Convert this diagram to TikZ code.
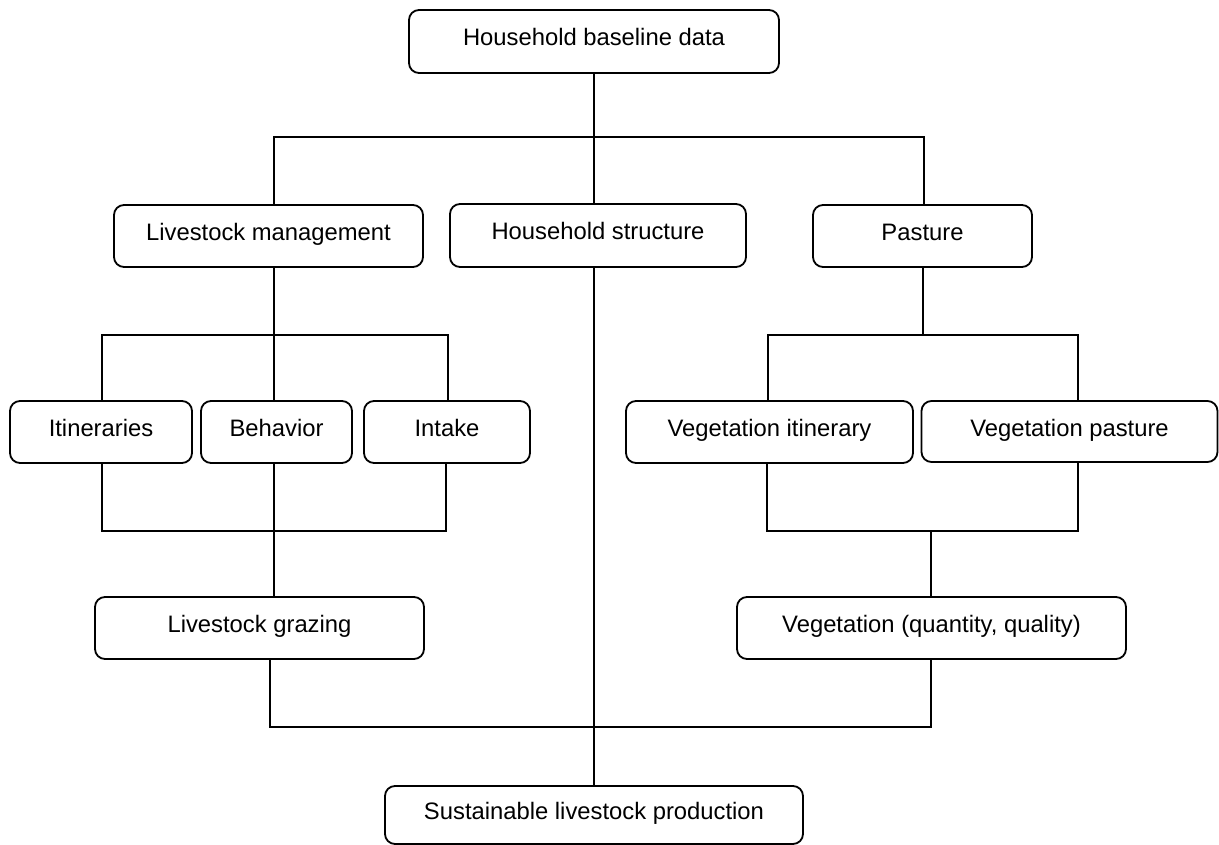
\documentclass[tikz,border=0pt]{standalone}
\usepackage{fontspec}
\setmainfont{Liberation Sans}
\begin{document}
\begin{tikzpicture}[x=1pt,y=-1pt,
  box/.style={draw=black, line width=1.8pt, rounded corners=10pt, fill=white,
    inner sep=0pt, text height=17pt, text depth=8pt, font=\fontsize{23.8}{28}\selectfont},
  conn/.style={draw=black, line width=1.8pt}]
\useasboundingbox (0,0) rectangle (1219,845);
% nodes
\node[box, minimum width=370pt, minimum height=63pt] (hbd) at (594,41.5) {Household baseline data};
\node[box, minimum width=309pt, minimum height=62pt] (lm) at (268.5,236) {Livestock management\hspace{15pt}};
\node[box, minimum width=296pt, minimum height=63pt] (hs) at (598,235.5) {Household structure};
\node[box, minimum width=219pt, minimum height=62pt] (pa) at (922.5,236) {Pasture};
\node[box, minimum width=182pt, minimum height=62pt] (it) at (101,432) {Itineraries};
\node[box, minimum width=151pt, minimum height=62pt] (be) at (276.5,432) {Behavior};
\node[box, minimum width=166pt, minimum height=62pt] (in) at (447,432) {Intake};
\node[box, minimum width=287pt, minimum height=62pt] (vi) at (769.5,432) {Vegetation itinerary};
\node[box, minimum width=296pt, minimum height=61pt] (vp) at (1069.5,431.5) {Vegetation pasture};
\node[box, minimum width=329pt, minimum height=62pt] (lg) at (259.5,628) {Livestock grazing};
\node[box, minimum width=389pt, minimum height=62pt] (vq) at (931.5,628) {Vegetation (quantity, quality)};
\node[box, minimum width=418pt, minimum height=58pt] (sl) at (594,815) {Sustainable livestock production\hspace{30pt}};
% junction coordinates
\coordinate (t1) at (274,137);
\coordinate (t2) at (924,137);
\coordinate (b1) at (274,335);
\coordinate (b1l) at (102,335);
\coordinate (b1r) at (448,335);
\coordinate (c1l) at (102,531);
\coordinate (c1m) at (274,531);
\coordinate (c1r) at (446,531);
\coordinate (p1) at (923,335);
\coordinate (p1l) at (768,335);
\coordinate (p1r) at (1078,335);
\coordinate (q1l) at (767,531);
\coordinate (q1m) at (931,531);
\coordinate (q1r) at (1078,531);
\coordinate (r1) at (270,727);
\coordinate (r2) at (931,727);
% connectors
\draw[conn] (hbd.south) -- (hs.north -| hbd.south);
\draw[conn] (t1 |- lm.north) -- (t1) -- (t2) -- (t2 |- pa.north);
\draw[conn] (hs.south -| hbd.south) -- (sl.north -| hbd.south);
\draw[conn] (lm.south -| b1) -- (b1) -- (b1 |- be.north);
\draw[conn] (b1l |- it.north) -- (b1l) -- (b1r) -- (b1r |- in.north);
\draw[conn] (it.south -| c1l) -- (c1l) -- (c1r) -- (in.south -| c1r);
\draw[conn] (be.south -| c1m) -- (c1m) -- (c1m |- lg.north);
\draw[conn] (pa.south -| p1) -- (p1);
\draw[conn] (p1l |- vi.north) -- (p1l) -- (p1r) -- (p1r |- vp.north);
\draw[conn] (vi.south -| q1l) -- (q1l) -- (q1r) -- (vp.south -| q1r);
\draw[conn] (q1m) -- (q1m |- vq.north);
\draw[conn] (lg.south -| r1) -- (r1) -- (r2) -- (vq.south -| r2);
\end{tikzpicture}
\end{document}
